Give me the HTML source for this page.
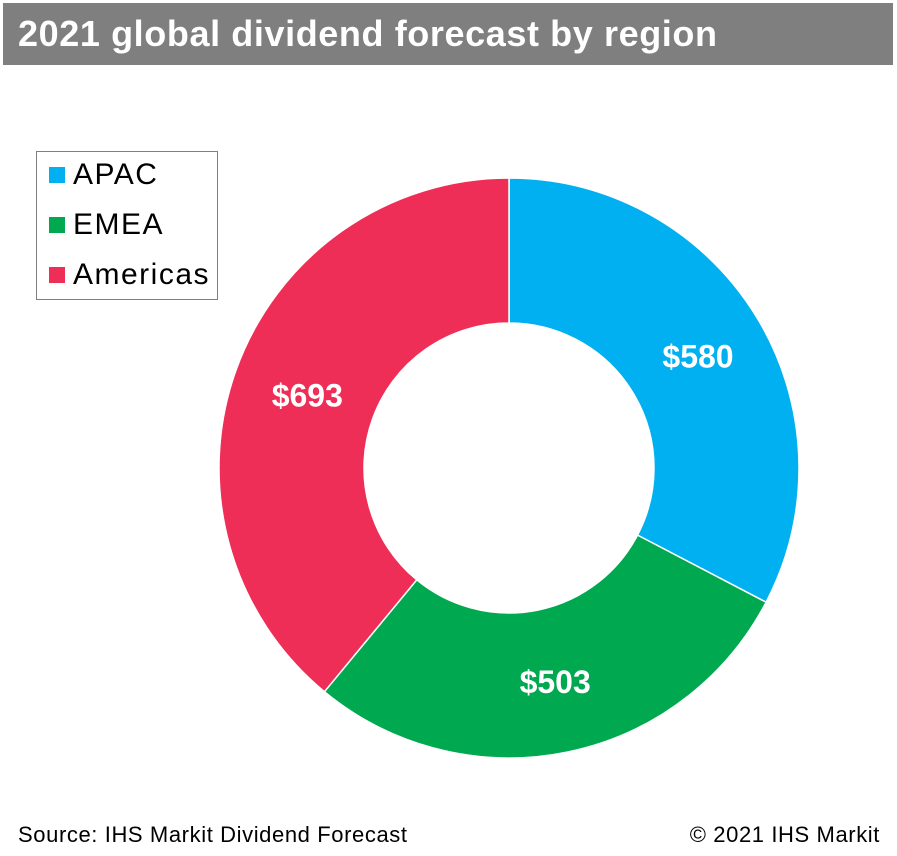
<!DOCTYPE html>
<html><head><meta charset="utf-8"><style>
body{margin:0;width:897px;height:856px;background:#fff;font-family:"Liberation Sans",Arial,sans-serif;position:relative;overflow:hidden}
#title{position:absolute;left:3px;top:3px;width:890px;height:62px;background:#7f7f7f;color:#fff;font-weight:bold;font-size:36px;letter-spacing:0.6px;line-height:62px;padding-left:15px;box-sizing:border-box;white-space:nowrap}
#legend{position:absolute;left:36px;top:151px;width:182px;height:149px;border:1.5px solid #7f7f7f;box-sizing:border-box}
.le{position:absolute;left:12px;font-size:30px;letter-spacing:1.5px;color:#000;display:flex;align-items:center;white-space:nowrap}
.sw{width:16px;height:16px;margin-right:8px}
.foot{position:absolute;top:822px;font-size:22px;letter-spacing:0.6px;color:#000}
</style></head><body>
<div id="title">2021 global dividend forecast by region</div>
<svg id="chart" width="897" height="856" style="position:absolute;left:0;top:0"></svg>
<div id="legend">
<div class="le" style="top:6px"><div class="sw" style="background:#00b0f0"></div>APAC</div>
<div class="le" style="top:56px"><div class="sw" style="background:#00a84f"></div>EMEA</div>
<div class="le" style="top:106px"><div class="sw" style="background:#ee2e56"></div>Americas</div>
</div>
<div class="foot" style="left:18px">Source: IHS Markit Dividend Forecast</div>
<div class="foot" style="right:17px">© 2021 IHS Markit</div>
<script>
const categories=["APAC","EMEA","Americas"];
const values=[580,503,693];
const labels=["$580","$503","$693"];
const colors=["#00b0f0","#00a84f","#ee2e56"];
const svg=document.getElementById('chart');
const NS='http://www.w3.org/2000/svg';
const cx=509,cy=468,R=290,r=145;
const total=values.reduce((a,b)=>a+b,0);
function pt(a,rad){return [cx+rad*Math.sin(a),cy-rad*Math.cos(a)];}
let a0=0;
values.forEach((v,i)=>{
  const a1=a0+v/total*2*Math.PI;
  const large=(a1-a0)>Math.PI?1:0;
  const p1=pt(a0,R),p2=pt(a1,R),p3=pt(a1,r),p4=pt(a0,r);
  const path=document.createElementNS(NS,'path');
  path.setAttribute('d',`M${p1[0]},${p1[1]}A${R},${R} 0 ${large} 1 ${p2[0]},${p2[1]}L${p3[0]},${p3[1]}A${r},${r} 0 ${large} 0 ${p4[0]},${p4[1]}Z`);
  path.setAttribute('fill',colors[i]);
  path.setAttribute('stroke','#fff');
  path.setAttribute('stroke-width','1.5');
  
  
  svg.appendChild(path);
  const mid=(a0+a1)/2;
  const lp=pt(mid,(R+r)/2);
  const t=document.createElementNS(NS,'text');
  t.setAttribute('x',lp[0]+3);t.setAttribute('y',lp[1]+12);
  t.setAttribute('text-anchor','middle');
  t.setAttribute('fill','#fff');
  t.setAttribute('font-weight','bold');
  t.setAttribute('font-size','32');
  t.setAttribute('font-family','Liberation Sans, Arial, sans-serif');
  t.textContent=labels[i];
  
  
  svg.appendChild(t);
  a0=a1;
});
</script>
</body></html>
